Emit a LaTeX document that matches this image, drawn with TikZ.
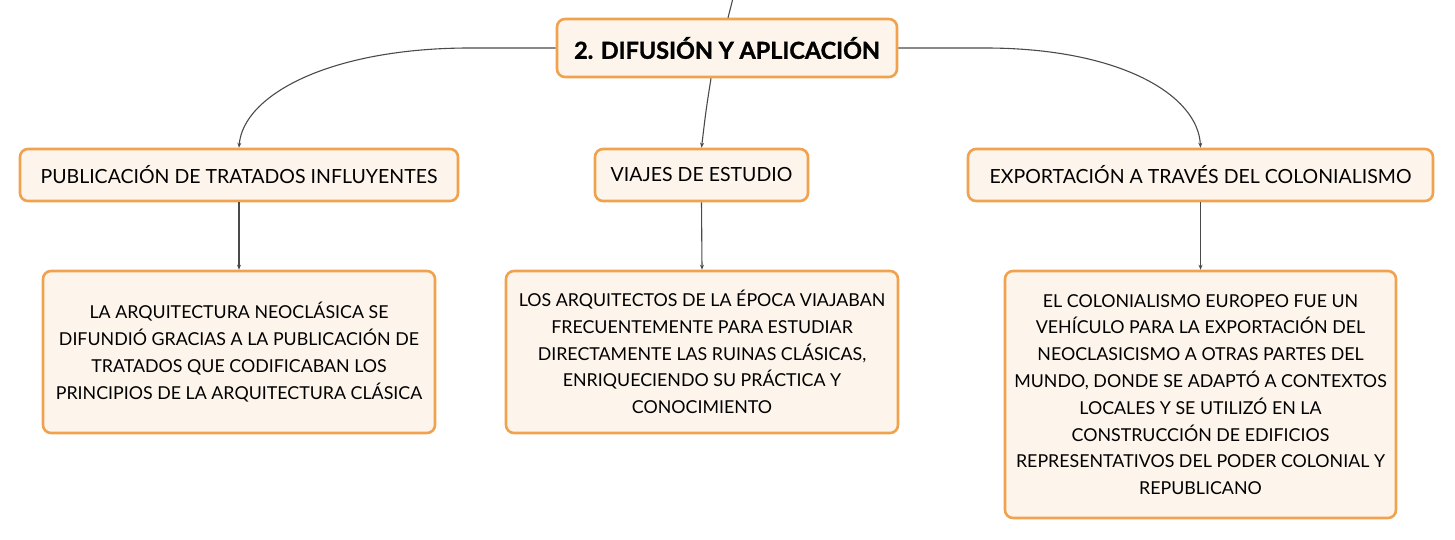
\documentclass[tikz,border=0pt]{standalone}
\usepackage{fontspec}
\setmainfont{Lato}
\newfontfamily\titlefont[BoldFeatures={FakeBold=1.3}]{Lato}
\usetikzlibrary{arrows.meta}
\definecolor{boxfill}{HTML}{FDF5EC}
\definecolor{boxline}{HTML}{F0A24E}
\definecolor{conn}{HTML}{4A4A4A}
\begin{document}
\begin{tikzpicture}[x=1pt,y=-1pt,
  box/.style={draw=boxline, fill=boxfill, line width=2.6pt, rounded corners=8pt, inner sep=0pt, align=center},
  titlebox/.style={box, minimum width=340pt, minimum height=58pt, font=\titlefont\fontsize{23.4}{28}\selectfont\bfseries},
  childbox/.style={box, minimum height=52pt, font=\fontsize{19.5}{23}\selectfont},
  descbox/.style={box, font=\fontsize{17.8}{26.8}\selectfont},
  link/.style={draw=conn, line width=1.1pt, -{Stealth[length=5pt,width=4pt]}},
  plain/.style={draw=conn, line width=1.1pt}
]
\useasboundingbox (0,0) rectangle (1455,540);
\node[titlebox] (T) at (727,48) {2. DIFUSIÓN Y APLICACIÓN};
\node[childbox, minimum width=438pt] (L) at (239,175) {PUBLICACIÓN DE TRATADOS INFLUYENTES};
\node[childbox, minimum width=213pt] (M) at (701.5,175) {VIAJES DE ESTUDIO};
\node[childbox, minimum width=465pt] (R) at (1200.5,175) {EXPORTACIÓN A TRAVÉS DEL COLONIALISMO};
\node[descbox, minimum width=392pt, minimum height=162pt] (LD) at (239,352) {LA ARQUITECTURA NEOCLÁSICA SE\\DIFUNDIÓ GRACIAS A LA PUBLICACIÓN DE\\TRATADOS QUE CODIFICABAN LOS\\PRINCIPIOS DE LA ARQUITECTURA CLÁSICA};
\node[descbox, minimum width=392pt, minimum height=162pt] (MD) at (702,352) {LOS ARQUITECTOS DE LA ÉPOCA VIAJABAN\\FRECUENTEMENTE PARA ESTUDIAR\\DIRECTAMENTE LAS RUINAS CLÁSICAS,\\ENRIQUECIENDO SU PRÁCTICA Y\\CONOCIMIENTO};
\node[descbox, minimum width=391pt, minimum height=247pt] (RD) at (1200.5,394.5) {EL COLONIALISMO EUROPEO FUE UN\\VEHÍCULO PARA LA EXPORTACIÓN DEL\\NEOCLASICISMO A OTRAS PARTES DEL\\MUNDO, DONDE SE ADAPTÓ A CONTEXTOS\\LOCALES Y SE UTILIZÓ EN LA\\CONSTRUCCIÓN DE EDIFICIOS\\REPRESENTATIVOS DEL PODER COLONIAL Y\\REPUBLICANO};
\coordinate (top) at (733,-2);
\draw[plain] ([xshift=1pt]T.north) .. controls (730,10) .. (top);
\draw[link] (T.west) -- (470,48) .. controls (330,48) and (243,95) .. (L.north);
\draw[link] (T.east) -- (985,48) .. controls (1120,48) and (1198,95) .. (R.north);
\draw[link] ([xshift=-16pt]T.south) .. controls (706,110) .. (M.north);
\draw[link] (L.south) -- (LD.north);
\draw[link] (M.south) -- (MD.north);
\draw[link] (R.south) -- (RD.north);
\end{tikzpicture}
\end{document}
